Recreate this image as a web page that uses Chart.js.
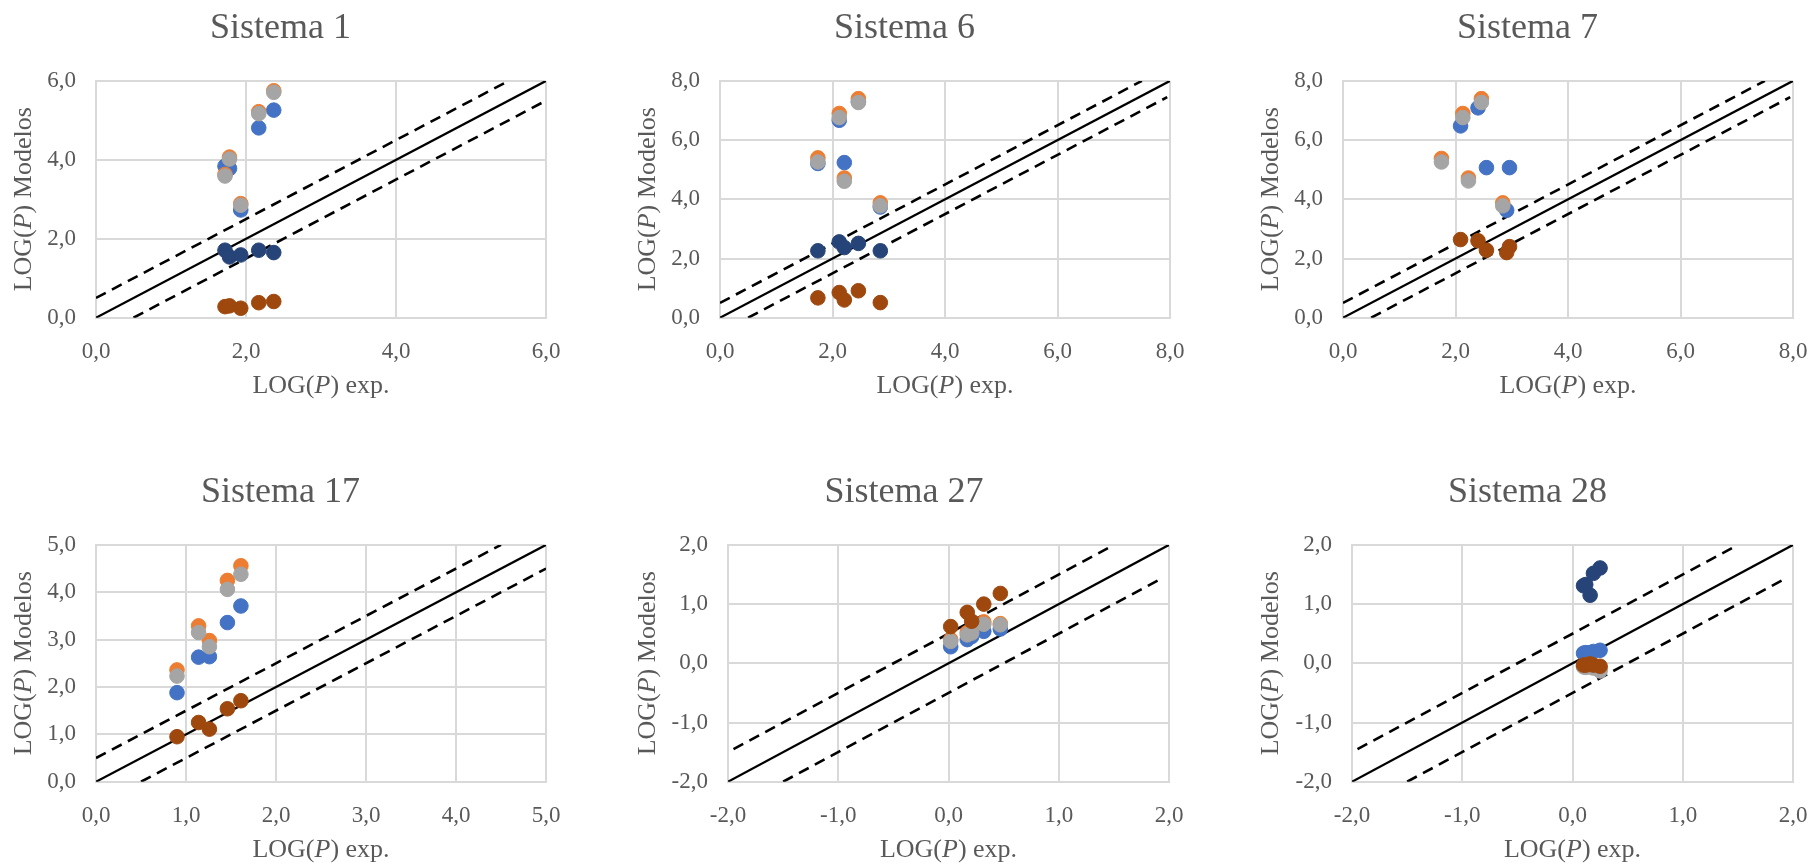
<!DOCTYPE html>
<html>
<head>
<meta charset="utf-8">
<script src="https://cdn.jsdelivr.net/npm/chart.js@4.4.1/dist/chart.umd.min.js"></script>
<style>
  html, body { margin: 0; padding: 0; background: #fff; overflow: hidden; }
  body { width: 1812px; height: 864px; position: relative; }
  canvas { position: absolute; }
</style>
</head>
<body>
<canvas id="c1"></canvas>
<canvas id="c2"></canvas>
<canvas id="c3"></canvas>
<canvas id="c4"></canvas>
<canvas id="c5"></canvas>
<canvas id="c6"></canvas>
<script>
// Sistema 1
const s1X      = [1.72, 1.78, 1.93, 2.17, 2.37];
const s1Blue   = [3.84, 3.78, 2.73, 4.81, 5.26];
const s1Orange = [3.63, 4.07, 2.89, 5.22, 5.75];
const s1Gray   = [3.59, 4.02, 2.85, 5.17, 5.71];
const s1Navy   = [1.71, 1.54, 1.59, 1.71, 1.65];
const s1Brown  = [0.28, 0.30, 0.24, 0.38, 0.41];

// Sistema 6
const s6X      = [1.74, 2.12, 2.21, 2.46, 2.85];
const s6Blue   = [5.21, 6.67, 5.24, 7.30, 3.74];
const s6Orange = [5.40, 6.90, 4.72, 7.40, 3.88];
const s6Gray   = [5.26, 6.76, 4.61, 7.27, 3.78];
const s6Navy   = [2.26, 2.56, 2.37, 2.51, 2.26];
const s6Brown  = [0.67, 0.85, 0.60, 0.91, 0.51];

// Sistema 7 (dos conjuntos de x)
const s7XA     = [1.75, 2.13, 2.23, 2.46, 2.84];
const s7Orange = [5.38, 6.90, 4.72, 7.40, 3.88];
const s7Gray   = [5.26, 6.76, 4.62, 7.27, 3.78];
const s7XB     = [2.09, 2.40, 2.55, 2.91, 2.96];
const s7Blue   = [6.48, 7.09, 5.07, 3.63, 5.07];
const s7Brown  = [2.64, 2.60, 2.28, 2.20, 2.40];

// Sistema 17
const s17X      = [0.90, 1.14, 1.26, 1.46, 1.61];
const s17Blue   = [1.88, 2.63, 2.64, 3.36, 3.71];
const s17Orange = [2.36, 3.29, 2.98, 4.25, 4.56];
const s17Gray   = [2.23, 3.15, 2.85, 4.06, 4.38];
const s17Brown  = [0.95, 1.25, 1.11, 1.54, 1.71];

// Sistema 27
const s27X      = [0.02, 0.17, 0.21, 0.32, 0.47];
const s27Blue   = [0.28, 0.40, 0.45, 0.54, 0.58];
const s27Orange = [0.40, 0.52, 0.55, 0.70, 0.67];
const s27Gray   = [0.37, 0.48, 0.51, 0.66, 0.65];
const s27Brown  = [0.62, 0.86, 0.71, 1.00, 1.18];

// Sistema 28
const s28X      = [0.10, 0.12, 0.16, 0.19, 0.25];
const s28Blue   = [0.17, 0.18, 0.18, 0.20, 0.22];
const s28Orange = [-0.05, -0.05, -0.06, -0.05, -0.08];
const s28Gray   = [-0.06, -0.07, -0.05, -0.08, -0.13];
const s28Navy   = [1.31, 1.33, 1.15, 1.52, 1.61];
const s28Brown  = [-0.03, -0.03, -0.01, -0.03, -0.05];

// rectas de referencia y = x, y = x ± 0,5 (extremos)
const ref0to6 = { solid: [[0, 0], [6, 6]], upper: [[0, 0.5], [5.5, 6]], lower: [[0.5, 0], [6, 5.5]] };
const ref0to8 = { solid: [[0, 0], [8, 8]], upper: [[0, 0.5], [7.5, 8]], lower: [[0.5, 0], [7.95, 7.45]] };
const ref0to5 = { solid: [[0, 0], [5, 5]], upper: [[0, 0.5], [4.5, 5]], lower: [[0.5, 0], [5, 4.5]] };
const refM2to2 = { solid: [[-2, -2], [2, 2]], upper: [[-1.95, -1.45], [1.5, 2]], lower: [[-1.5, -2], [1.95, 1.45]] };

const titles = ['Sistema 1', 'Sistema 6', 'Sistema 7', 'Sistema 17', 'Sistema 27', 'Sistema 28'];
const xTitle = 'LOG(P) exp.';
const yTitle = 'LOG(P) Modelos';

const COLORS = {
    blue: '#4472C4',
    orange: '#ED7D31',
    gray: '#A5A5A5',
    navy: '#264478',
    brown: '#9E480E'
};
const TEXT = '#595959';
const GRID = '#D9D9D9';
const FONT = "'Liberation Serif', 'Times New Roman', serif";
const AXIS_TITLE_SIZE = 26;

const pts = (xs, ys) => xs.map((x, i) => ({ x: x, y: ys[i] }));
const seg = (pair) => pair.map(p => ({ x: p[0], y: p[1] }));

function pointSet(data, color) {
    return {
        data: data,
        backgroundColor: color,
        borderColor: color,
        borderWidth: 1,
        pointRadius: 7.3,
        pointHoverRadius: 7.3,
        showLine: false
    };
}
function lineSet(data, dashed) {
    return {
        data: data,
        showLine: true,
        borderColor: '#000',
        borderWidth: dashed ? 2.6 : 2.3,
        borderDash: dashed ? [11, 7] : [],
        pointRadius: 0,
        pointHoverRadius: 0,
        fill: false
    };
}

const fmt = v => Number(v).toFixed(1).replace('.', ',');

// Títulos de eje con la "P" en cursiva: el título de Chart.js reserva el sitio
// (transparente) y este plugin escribe el texto por partes.
function richParts(text) {
    const i = text.indexOf('(P)');
    return [
        { t: text.slice(0, i + 1), it: false },
        { t: 'P', it: true },
        { t: text.slice(i + 2), it: false }
    ];
}
const richAxisTitles = {
    id: 'richAxisTitles',
    afterDraw(chart) {
        const ctx = chart.ctx;
        const area = chart.chartArea;
        const lh = AXIS_TITLE_SIZE * 1.2;
        const draw = (text, x, y, rot) => {
            const parts = richParts(text);
            ctx.save();
            ctx.translate(x, y);
            ctx.rotate(rot);
            ctx.fillStyle = TEXT;
            ctx.textBaseline = 'middle';
            ctx.textAlign = 'left';
            let w = 0;
            parts.forEach(p => {
                ctx.font = (p.it ? 'italic ' : '') + AXIS_TITLE_SIZE + 'px ' + FONT;
                p.w = ctx.measureText(p.t).width;
                w += p.w;
            });
            let cx = -w / 2;
            parts.forEach(p => {
                ctx.font = (p.it ? 'italic ' : '') + AXIS_TITLE_SIZE + 'px ' + FONT;
                ctx.fillText(p.t, cx, 0);
                cx += p.w;
            });
            ctx.restore();
        };
        const xs = chart.scales.x, ys = chart.scales.y;
        const xPad = xs.options.title.padding.bottom;
        const yPad = ys.options.title.padding.top;
        draw(xs.options.title.text, (area.left + area.right) / 2, xs.bottom - xPad - lh / 2, 0);
        draw(ys.options.title.text, ys.left + yPad + lh / 2, (area.top + area.bottom) / 2, -Math.PI / 2);
    }
};

function makeChart(id, box, title, series, ref, range) {
    const el = document.getElementById(id);
    const padRight = 40;
    const padLeft = 15;
    el.width = box.plotRight - box.left + padRight;
    el.height = 403;
    el.style.left = box.left + 'px';
    el.style.top = box.top + 'px';

    // el primer dataset se dibuja encima
    const datasets = [];
    if (series.brown) datasets.push(pointSet(series.brown, COLORS.brown));
    if (series.navy) datasets.push(pointSet(series.navy, COLORS.navy));
    if (series.gray) datasets.push(pointSet(series.gray, COLORS.gray));
    if (series.orange) datasets.push(pointSet(series.orange, COLORS.orange));
    if (series.blue) datasets.push(pointSet(series.blue, COLORS.blue));
    datasets.push(lineSet(seg(ref.solid), false));
    datasets.push(lineSet(seg(ref.upper), true));
    datasets.push(lineSet(seg(ref.lower), true));

    const axis = (isX) => ({
        type: 'linear',
        position: isX ? 'bottom' : 'left',
        min: range.min,
        max: range.max,
        ticks: {
            stepSize: range.step,
            color: TEXT,
            padding: 20,
            font: { family: FONT, size: 23 },
            callback: fmt
        },
        grid: { color: GRID, lineWidth: 2, drawTicks: false },
        border: { display: true, color: GRID, width: 2 },
        title: {
            display: true,
            text: isX ? xTitle : yTitle,
            color: 'rgba(0,0,0,0)',
            font: { family: FONT, size: AXIS_TITLE_SIZE },
            padding: isX ? { top: 0, bottom: 1.4 } : { top: 8.4 - padLeft, bottom: 0 }
        },
        afterFit: isX ? (s) => { s.height = 85.3; } : (s) => { s.width = box.yw - padLeft; }
    });

    return new Chart(el, {
        type: 'scatter',
        data: { datasets: datasets },
        options: {
            responsive: false,
            animation: false,
            events: [],
            layout: { padding: { left: padLeft, top: 0, bottom: 0, right: padRight } },
            plugins: {
                legend: { display: false },
                tooltip: { enabled: false },
                title: {
                    display: true,
                    text: title,
                    color: TEXT,
                    font: { family: FONT, size: 36, weight: 'normal' },
                    padding: { top: 7, bottom: 30.7 }
                }
            },
            scales: { x: axis(true), y: axis(false) }
        },
        plugins: [richAxisTitles]
    });
}

const boxes = [
    { left: 0,    top: 0,   yw: 96,  plotRight: 546 },
    { left: 624,  top: 0,   yw: 96,  plotRight: 1170 },
    { left: 1247, top: 0,   yw: 96,  plotRight: 1793 },
    { left: 0,    top: 464, yw: 96,  plotRight: 546 },
    { left: 624,  top: 464, yw: 104, plotRight: 1169 },
    { left: 1247, top: 464, yw: 105, plotRight: 1793 }
];

makeChart('c1', boxes[0], titles[0], {
    blue: pts(s1X, s1Blue), orange: pts(s1X, s1Orange), gray: pts(s1X, s1Gray),
    navy: pts(s1X, s1Navy), brown: pts(s1X, s1Brown)
}, ref0to6, { min: 0, max: 6, step: 2 });

makeChart('c2', boxes[1], titles[1], {
    blue: pts(s6X, s6Blue), orange: pts(s6X, s6Orange), gray: pts(s6X, s6Gray),
    navy: pts(s6X, s6Navy), brown: pts(s6X, s6Brown)
}, ref0to8, { min: 0, max: 8, step: 2 });

makeChart('c3', boxes[2], titles[2], {
    blue: pts(s7XB, s7Blue), orange: pts(s7XA, s7Orange), gray: pts(s7XA, s7Gray),
    brown: pts(s7XB, s7Brown)
}, ref0to8, { min: 0, max: 8, step: 2 });

makeChart('c4', boxes[3], titles[3], {
    blue: pts(s17X, s17Blue), orange: pts(s17X, s17Orange), gray: pts(s17X, s17Gray),
    brown: pts(s17X, s17Brown)
}, ref0to5, { min: 0, max: 5, step: 1 });

makeChart('c5', boxes[4], titles[4], {
    blue: pts(s27X, s27Blue), orange: pts(s27X, s27Orange), gray: pts(s27X, s27Gray),
    brown: pts(s27X, s27Brown)
}, refM2to2, { min: -2, max: 2, step: 1 });

makeChart('c6', boxes[5], titles[5], {
    blue: pts(s28X, s28Blue), orange: pts(s28X, s28Orange), gray: pts(s28X, s28Gray),
    navy: pts(s28X, s28Navy), brown: pts(s28X, s28Brown)
}, refM2to2, { min: -2, max: 2, step: 1 });
</script>
</body>
</html>
